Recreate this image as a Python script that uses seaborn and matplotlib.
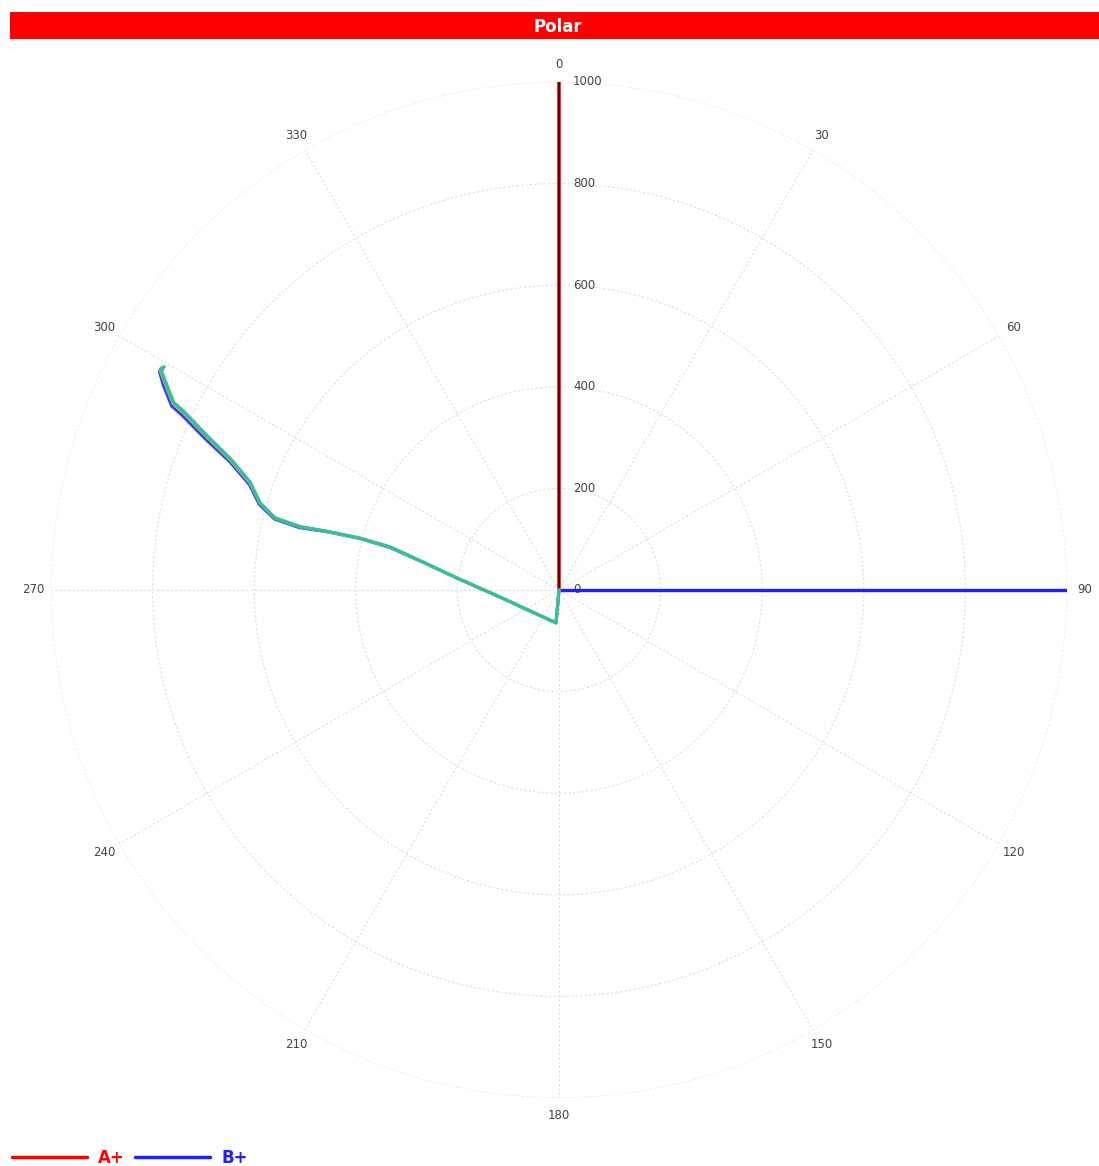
import numpy as np
import matplotlib
matplotlib.use("Agg")
import matplotlib.pyplot as plt
import matplotlib.transforms as mtransforms
from matplotlib.patches import Rectangle
from matplotlib.lines import Line2D
import seaborn as sns

# --- data (angles in degrees, clockwise from north; radius 0..1000) ---
a_theta = [0, 0]
a_r = [0, 1000]

b_theta = [90, 90]
b_r = [0, 1000]

# trace drawn by several overlapping series
curve_r = [0, 65, 117, 202, 273, 343, 405, 470, 525, 577, 613, 644, 696, 756, 819, 844, 876, 897, 893]
curve_blue_theta = [0, 185.2, 263.1, 276.6, 281.5, 284.1, 284.5, 284.1, 283.5, 284.0, 285.9, 288.8, 291.3, 293.1, 294.9, 295.4, 297.3, 298.7, 299.1]
curve_yellow_theta = [0, 185.2, 263.2, 276.7, 281.6, 284.3, 284.6, 284.2, 283.7, 284.2, 286.2, 289.1, 291.6, 293.5, 295.3, 295.8, 297.7, 298.9, 299.4]
curve_green_theta = [0, 185.2, 263.2, 276.7, 281.6, 284.3, 284.6, 284.2, 283.8, 284.3, 286.3, 289.3, 291.8, 293.7, 295.5, 296.0, 297.9, 299.1, 299.5]
curve_teal_theta = [0, 185.2, 263.2, 276.7, 281.6, 284.3, 284.6, 284.2, 283.7, 284.2, 286.2, 289.2, 291.7, 293.6, 295.4, 295.9, 297.8, 299.0, 299.4]

r_ticks = [0, 200, 400, 600, 800, 1000]
theta_ticks = [0, 30, 60, 90, 120, 150, 180, 210, 240, 270, 300, 330]

sns.set_style("white")
plt.rcParams['font.family'] = ['DejaVu Sans']

fig = plt.figure(figsize=(10.99, 11.66), dpi=100)

# red title bar
fig.patches.append(Rectangle((0.0091, 0.9666), 0.9909, 0.0232, transform=fig.transFigure,
                             facecolor="#ff0000", edgecolor="none", zorder=0))
fig.text(0.508, 0.9772, "Polar", color="white", fontsize=12, fontweight="bold",
         ha="center", va="center")

ax = fig.add_axes([0.0464, 0.0583, 0.9245, 0.8714], projection="polar")
ax.set_theta_zero_location("N")
ax.set_theta_direction(-1)
ax.set_ylim(0, 1000)

grid_kw = dict(color="#dedede", linestyle=(0, (2, 2)), linewidth=0.8)
ax.grid(True, **grid_kw)
ax.spines["polar"].set_visible(False)

ax.set_xticks(np.deg2rad(theta_ticks))
ax.set_xticklabels([str(t) for t in theta_ticks], fontsize=8.5, color="#444444")
ax.tick_params(axis="x", pad=2)

ax.set_yticks(r_ticks)
ax.set_yticklabels([str(t) for t in r_ticks], fontsize=8.5, color="#444444")
ax.set_rlabel_position(0)
offset = mtransforms.ScaledTranslation(0.14, 0, fig.dpi_scale_trans)
for lbl in ax.get_yticklabels():
    lbl.set_horizontalalignment("left")
    lbl.set_verticalalignment("center")
    lbl.set_transform(lbl.get_transform() + offset)

# series
sns.lineplot(x=np.deg2rad(a_theta), y=a_r, ax=ax, sort=False, estimator=None,
             color="#ff0000", linewidth=2.6)
sns.lineplot(x=np.deg2rad(a_theta), y=a_r, ax=ax, sort=False, estimator=None,
             color="#5a0000", linewidth=1.4)
sns.lineplot(x=np.deg2rad(b_theta), y=b_r, ax=ax, sort=False, estimator=None,
             color="#1f1fff", linewidth=2.4)

for th, col in [(curve_blue_theta, "#3a3aff"), (curve_yellow_theta, "#e6c233"),
                (curve_green_theta, "#66cc55"), (curve_teal_theta, "#33bfa3")]:
    sns.lineplot(x=np.deg2rad(th), y=curve_r, ax=ax, sort=False, estimator=None,
                 color=col, linewidth=2.2)

ax.set_xlabel("")
ax.set_ylabel("")

# legend
handles = [Line2D([0], [0], color="#ff0000", linewidth=2.5),
           Line2D([0], [0], color="#1f1fff", linewidth=2.5)]
leg = fig.legend(handles, ["A+", "B+"], loc="lower left", bbox_to_anchor=(0.0, -0.011),
                 ncol=2, frameon=False, handlelength=4.5, handletextpad=0.7,
                 columnspacing=0.6, borderaxespad=0.3,
                 prop=dict(size=12, weight="bold"))
for txt, col in zip(leg.get_texts(), ["#ff0000", "#1f1fff"]):
    txt.set_color(col)

fig.savefig("out.png", dpi=100)
